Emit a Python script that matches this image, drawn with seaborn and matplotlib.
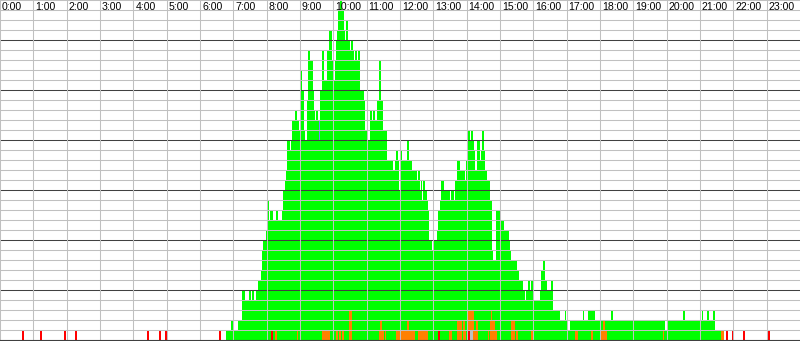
import numpy as np
import pandas as pd
import matplotlib
matplotlib.use("Agg")
import matplotlib.pyplot as plt
import seaborn as sns

# ---------------- data (minutes from midnight, run-length: level holds until next start)
green_start = [408, 416, 418, 430, 436, 437, 441, 449, 451, 455, 456, 462, 466, 470, 472, 473, 475,
               480, 482, 484, 487, 490, 497, 499, 509, 511, 513, 515, 517, 518, 522, 524, 527, 531,
               533, 537, 541, 543, 546, 549, 553, 556, 557, 562, 565, 567, 570, 572, 573, 576, 581,
               583, 589, 593, 596, 599, 603, 606, 607, 609, 610, 612, 614, 618, 619, 621, 624, 625,
               627, 629, 632, 634, 636, 639, 641, 645, 647, 648, 654, 657, 660, 666, 669, 672, 674,
               679, 683, 685, 689, 696, 707, 711, 714, 716, 717, 720, 722, 725, 733, 735, 741, 750,
               753, 756, 758, 759, 762, 764, 768, 769, 771, 777, 780, 787, 789, 790, 792, 795, 798,
               803, 805, 810, 813, 816, 819, 822, 823, 828, 831, 833, 836, 840, 842, 844, 846, 848,
               850, 853, 855, 859, 863, 864, 867, 869, 871, 872, 873, 876, 881, 885, 887, 893, 894,
               900, 903, 906, 915, 918, 919, 930, 931, 933, 934, 941, 945, 948, 952, 954, 956, 958,
               960, 972, 975, 977, 979, 981, 984, 992, 994, 995, 1008, 1017, 1018, 1020, 1026, 1050,
               1051, 1060, 1071, 1101, 1103, 1197, 1202, 1231, 1233, 1264, 1265, 1274, 1276, 1285,
               1287, 1303]
green_level = [1, 2, 1, 2, 3, 5, 4, 5, 4, 5, 4, 5, 6, 7, 8, 9, 10,
               11, 14, 12, 13, 12, 13, 12, 13, 15, 16, 17, 18, 20, 19, 20, 22, 23,
               22, 21, 27, 25, 21, 20, 24, 29, 28, 25, 23, 22, 23, 22, 20, 25, 29,
               26, 29, 31, 28, 26, 28, 30, 31, 32, 33, 34, 33, 32, 31, 30, 32, 29,
               30, 29, 30, 29, 28, 29, 28, 29, 28, 25, 24, 21, 20, 23, 22, 23, 22,
               24, 28, 24, 21, 18, 17, 18, 19, 18, 15, 19, 17, 18, 20, 18, 17, 16,
               17, 15, 16, 14, 16, 15, 14, 13, 10, 9, 10, 11, 12, 13, 14, 16, 15,
               14, 15, 14, 15, 14, 16, 15, 18, 17, 16, 17, 16, 18, 17, 21, 20, 21,
               20, 19, 17, 20, 19, 18, 19, 21, 19, 18, 17, 16, 14, 9, 8, 9, 13,
               8, 12, 11, 10, 9, 8, 7, 6, 7, 6, 5, 4, 5, 6, 5, 6, 5,
               4, 5, 7, 6, 8, 6, 5, 6, 4, 3, 2, 3, 2, 1, 2, 3,
               2, 3, 2, 3, 2, 1, 2, 3, 2, 3, 2, 3, 2, 3,
               1, 0]

blue_start = [573, 576]
blue_level = [2, 0]

orange_start = [496, 498, 535, 536, 580, 594, 606, 608, 611, 613, 617, 619, 629, 632, 633,
                683, 684, 687, 690, 693, 694, 713, 733, 736, 747, 753, 755, 756, 769, 809, 813,
                823, 831, 834, 837, 838, 843, 844, 852, 857, 859, 879, 880, 882, 884, 885, 887,
                890, 893, 920, 921, 927, 930, 932, 956, 959, 1035, 1039, 1065, 1067, 1083, 1086,
                1089, 1091, 1194, 1195, 1298, 1303]
orange_level = [1, 0, 1, 0, 1, 0, 1, 0, 1, 0, 1, 0, 3, 1, 0,
                1, 2, 1, 0, 1, 0, 1, 2, 1, 0, 1, 0, 1, 0, 1, 0,
                2, 0, 2, 1, 0, 1, 3, 1, 2, 0, 1, 0, 2, 3, 1, 2,
                1, 0, 1, 2, 0, 1, 0, 1, 0, 1, 0, 1, 0, 1, 2,
                1, 0, 1, 0, 1, 0]

gray_start = [846, 851]
gray_level = [1, 0]

red_minute = [40, 73, 116, 136, 265, 287, 298, 395, 489, 790, 844, 1307, 1318, 1339, 1383]
red_count = [1] * len(red_minute)

hour_labels = [f"{h}:00" for h in range(24)]


def expand(starts, levels):
    arr = np.zeros(1440)
    for i, (s, lv) in enumerate(zip(starts, levels)):
        e = starts[i + 1] if i + 1 < len(starts) else 1440
        arr[s:e] = lv
    return arr


green = expand(green_start, green_level)
blue_top = green + expand(blue_start, blue_level)
orange = expand(orange_start, orange_level)
gray = expand(gray_start, gray_level)
red = np.zeros(1440)
for m, c in zip(red_minute, red_count):
    red[m:m + 2] = c

minutes = np.arange(1440) + 0.5

fig = plt.figure(figsize=(8, 3.41), dpi=100)
ax = fig.add_axes([0, 0, 1, 1])
fig.patch.set_facecolor("white")
ax.set_facecolor("white")

layers = [(blue_top, "#7f7fff"), (green, "#00ff00"), (orange, "#ff8000"),
          (gray, "#c0c0c0"), (red, "#ff0000")]
for vals, col in layers:
    df = pd.DataFrame({"minute": minutes, "count": vals})
    sns.histplot(data=df, x="minute", weights="count", bins=1440, binrange=(0, 1440),
                 element="step", fill=True, color=col, alpha=1, linewidth=0,
                 antialiased=False, ax=ax)

ax.set_xlim(0, 1440)
ax.set_ylim(-0.1, 34)

for v in range(1, 35):
    dark = (v % 5 == 0)
    ax.axhline(v, color="#404040" if dark else "#c0c0c0", lw=0.75, zorder=5)
ax.axhline(0, color="#404040", lw=0.8, zorder=6)
for h in range(24):
    ax.axvline(h * 60, color="#c0c0c0", lw=0.75, zorder=5)
    ax.text(h * 60 + 3.6, 33.05, hour_labels[h], fontsize=7.6, va="baseline", ha="left",
            family=["Liberation Sans Narrow", "Liberation Sans", "DejaVu Sans"],
            color="black", zorder=7)

ax.set_xticks([])
ax.set_yticks([])
ax.set_xlabel("")
ax.set_ylabel("")
for s in ax.spines.values():
    s.set_visible(False)

fig.savefig("out.png", dpi=100, facecolor="white")
